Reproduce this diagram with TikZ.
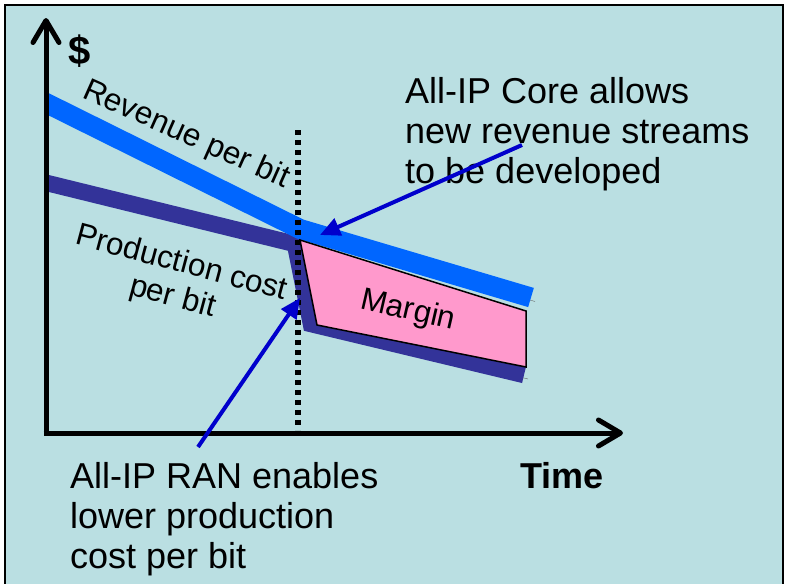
\documentclass[tikz,border=0pt]{standalone}
\usepackage{fontspec}
\setmainfont{Liberation Sans}
\usetikzlibrary{arrows.meta}
\definecolor{slidebg}{RGB}{186,223,226}
\definecolor{revblue}{RGB}{0,102,255}
\definecolor{costblue}{RGB}{51,51,153}
\definecolor{marginpink}{RGB}{255,153,204}
\definecolor{arrowblue}{RGB}{0,0,204}
\definecolor{shade}{RGB}{102,102,102}
\tikzset{>=stealth,
  axis/.style={line width=5pt, -{Straight Barb[length=22pt,width=26pt,round]}},
  band/.style={line width=#1, preaction={draw=shade, transform canvas={xshift=4pt,yshift=-4pt}}},
  callout/.style={arrowblue, line width=4pt, -{Triangle[length=20pt,width=18pt]}},
  bigtext/.style={font=\fontsize{36}{40}\selectfont, inner sep=0pt, align=left},
  slanttext/.style={font=\fontsize{31.5}{35}\selectfont, inner sep=0pt, align=center}}

\begin{document}
\begin{tikzpicture}[x=1pt,y=-1pt]
\useasboundingbox (0,0) rectangle (785,584);
\fill[slidebg] (5,5) rectangle (783,584);
\draw[line width=2pt] (5,584) -- (5,5) -- (783,5) -- (783,584);

\begin{scope}
\clip (46,0) rectangle (785,584);
\draw[band=16.5pt, costblue] (40,181.3) -- (295,244) -- (311,324) -- (524,375);
\draw[band=20pt, revblue] (40,100) -- (300,229) -- (531,297.5);
\end{scope}
\filldraw[fill=marginpink, draw=black, line width=1.5pt] (300,240) -- (317,325) -- (526,367) -- (526,311) -- cycle;
\draw[line width=6pt, dash pattern=on 5pt off 5pt] (298,130) -- (298,430);

\draw[axis] (46,435.5) -- (46,18);
\draw[axis] (43.5,433) -- (623,433);

\node[font=\fontsize{40}{44}\selectfont\bfseries, inner sep=0pt, anchor=base west] (dollar) at (68,64) {\$};
\node[bigtext, font=\fontsize{36}{40}\selectfont\bfseries, anchor=base west] (time) at (520,488) {Time};
\node[slanttext, rotate=-24] (revenue) at (186,135) {Revenue per bit};
\node[slanttext, rotate=-15] (cost) at (177,281) {Production cost\\per bit};
\node[slanttext, rotate=-13] (margin) at (408,311) {Margin};
\node[bigtext, anchor=base west] (corenote) at (405,183) {All-IP Core allows\\new revenue streams\\to be developed};
\node[bigtext, anchor=base west] (rannote) at (70,568) {All-IP RAN enables\\lower production\\cost per bit};

\coordinate (coretail) at (522,145);
\coordinate (coretip) at (320,235);
\coordinate (rantail) at (198,447);
\coordinate (rantip) at (300,298);
\draw[callout] (coretail) -- (coretip);
\draw[callout] (rantail) -- (rantip);
\end{tikzpicture}
\end{document}
